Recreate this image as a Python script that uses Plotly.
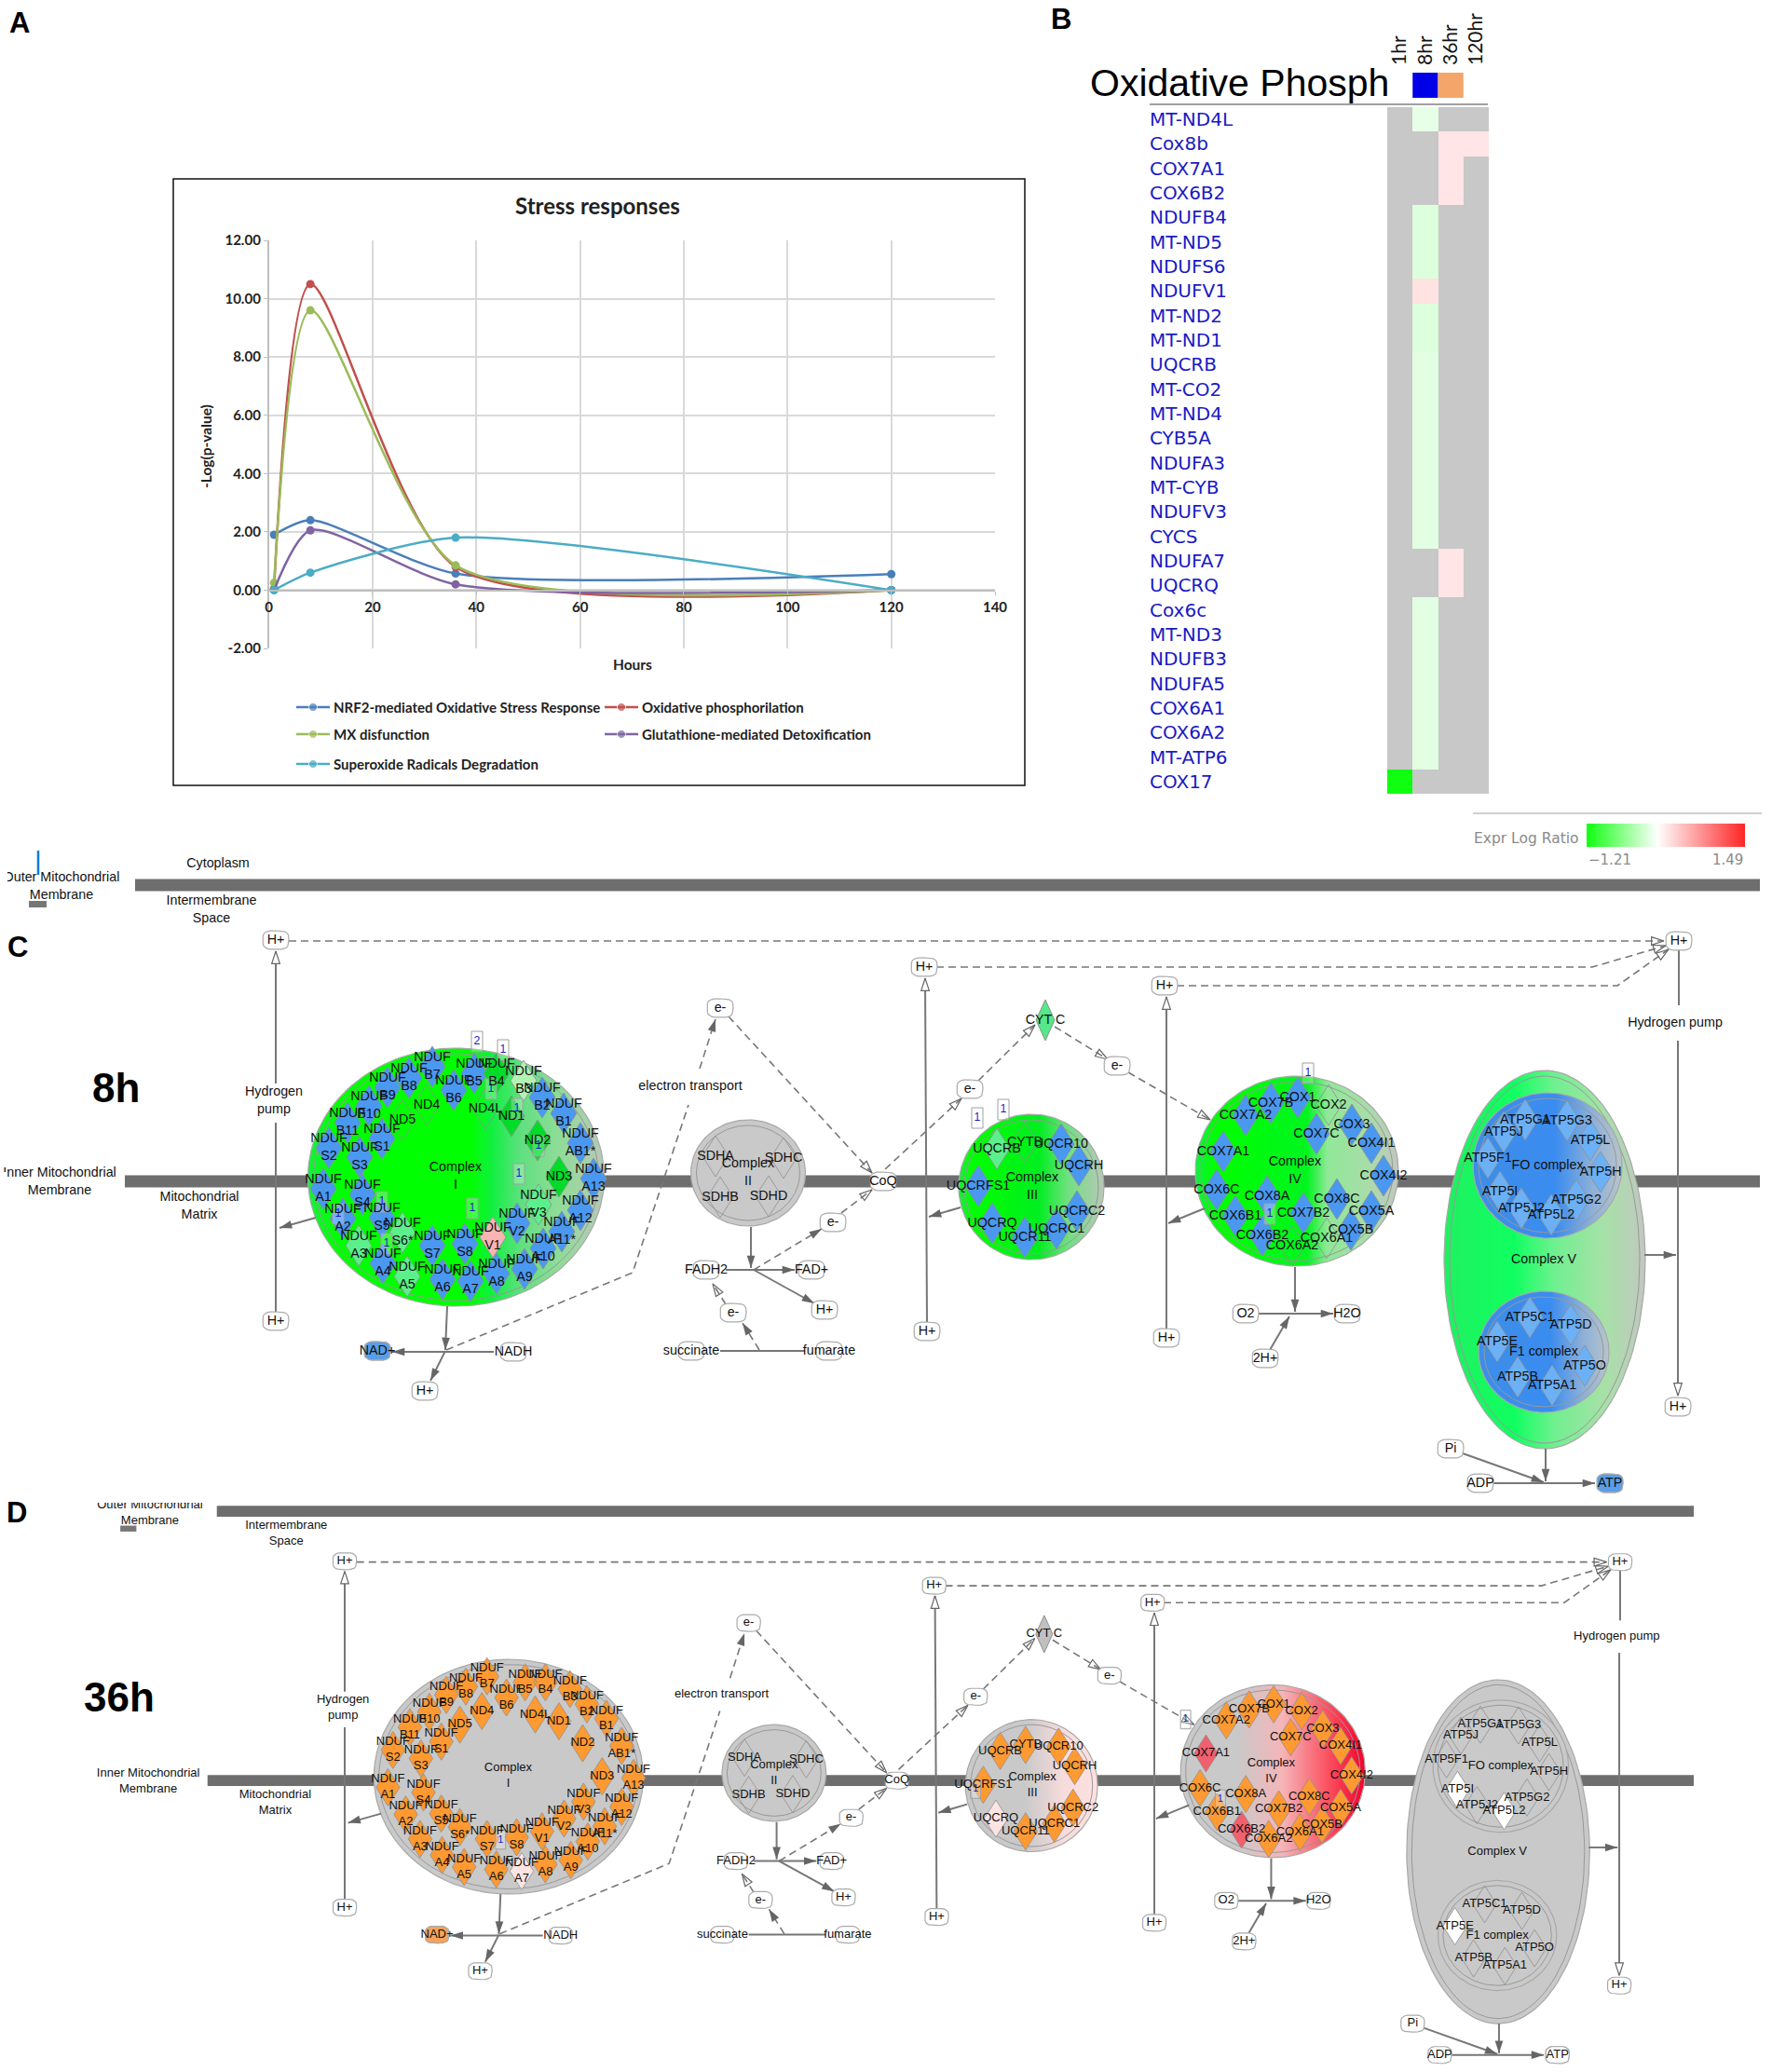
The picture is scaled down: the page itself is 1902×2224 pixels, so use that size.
import numpy as np
import plotly.graph_objects as go

W, H = 1902, 2224

# ---- panel A
hours = [1, 8, 36, 120]
nrf2 = [1.9, 2.4, 0.57, 0.55]
oxphos = [0.05, 10.5, 0.8, 0.0]
mx_dysf = [0.25, 9.6, 0.85, 0.0]
glutathione = [0.0, 2.05, 0.2, 0.0]
superoxide = [0.0, 0.6, 1.8, 0.0]
series_names = ['NRF2-mediated Oxidative Stress Response', 'Oxidative phosphorilation', 'MX disfunction',
                'Glutathione-mediated Detoxification', 'Superoxide Radicals Degradation']
series_colors = ['#4a7ebb', '#c0504d', '#9bbb59', '#8064a2', '#4bacc6']
y_tick_values = [-2, 0, 2, 4, 6, 8, 10, 12]
y_tick_labels = ['-2.00', '0.00', '2.00', '4.00', '6.00', '8.00', '10.00', '12.00']

# ---- panel B
genes = ['MT-ND4L', 'Cox8b', 'COX7A1', 'COX6B2', 'NDUFB4', 'MT-ND5', 'NDUFS6', 'NDUFV1', 'MT-ND2', 'MT-ND1',
         'UQCRB', 'MT-CO2', 'MT-ND4', 'CYB5A', 'NDUFA3', 'MT-CYB', 'NDUFV3', 'CYCS', 'NDUFA7', 'UQCRQ',
         'Cox6c', 'MT-ND3', 'NDUFB3', 'NDUFA5', 'COX6A1', 'COX6A2', 'MT-ATP6', 'COX17']
timepoints = ['1hr', '8hr', '36hr', '120hr']
n = None
expr_1hr = [n, n, n, n, n, n, n, n, n, n, n, n, n, n, n, n, n, n, n, n, n, n, n, n, n, n, n, -1.21]
expr_8hr = [-0.12, n, n, n, -0.18, -0.18, -0.18, 0.2, -0.18, -0.18, -0.14, -0.14, -0.14, -0.14, -0.14, -0.14,
            -0.14, -0.14, n, n, -0.14, -0.14, -0.14, -0.14, -0.14, -0.14, -0.14, n]
expr_36hr = [n, 0.18, 0.18, 0.18, n, n, n, n, n, n, n, n, n, n, n, n, n, n, 0.18, 0.18, n, n, n, n, n, n, n, n]
expr_120hr = [n, 0.18, n, n, n, n, n, n, n, n, n, n, n, n, n, n, n, n, n, n, n, n, n, n, n, n, n, n]

# ---- panels C and D share one layout, given here in the coordinates of panel C
c1_labels = ['NDUF<br>B7', 'NDUF<br>B8', 'NDUF<br>B9', 'NDUF<br>B10', 'NDUF<br>B11', 'NDUF<br>S1', 'NDUF<br>S2',
             'NDUF<br>S3', 'NDUF<br>A1', 'NDUF<br>S4', 'NDUF<br>A2', 'NDUF<br>S5', 'NDUF<br>A3', 'NDUF<br>S6*',
             'NDUF<br>A4', 'NDUF<br>A5', 'NDUF<br>A6', 'NDUF<br>A7', 'NDUF<br>A8', 'NDUF<br>A9', 'NDUF<br>A10',
             'NDUF<br>A11*', 'NDUF<br>A12', 'NDUF<br>A13', 'NDUF<br>S7', 'NDUF<br>S8', 'NDUF<br>V1', 'NDUF<br>V2',
             'NDUF<br>V3', 'NDUF<br>B6', 'NDUF<br>B5', 'NDUF<br>B4', 'NDUF<br>B3', 'NDUF<br>B2', 'NDUF<br>B1',
             'NDUF<br>AB1*', 'ND5', 'ND4', 'ND4L', 'ND1', 'ND2', 'ND3']
c1_x = [464, 439, 416, 396, 373, 410, 353, 386, 347, 389, 368, 410, 385, 432, 411, 437, 475, 505, 533, 563, 583, 603,
        623, 637, 464, 499, 529, 555, 578, 487, 509, 533, 562, 582, 605, 623, 432, 458, 521, 549, 577, 600]
c1_y = [1145, 1157, 1167, 1187, 1205, 1222, 1232, 1242, 1276, 1282, 1308, 1307, 1337, 1323, 1356, 1370, 1373, 1375,
        1367, 1362, 1340, 1322, 1299, 1265, 1337, 1335, 1328, 1313, 1293, 1170, 1152, 1152, 1160, 1178, 1195, 1227,
        1202, 1186, 1190, 1198, 1224, 1263]

c2_labels = ['SDHA', 'SDHC', 'SDHB', 'SDHD']
c2_x = [768, 841, 773, 825]
c2_y = [1241, 1243, 1285, 1284]

c3_labels = ['UQCRB', 'CYTB', 'UQCR10', 'UQCRH', 'UQCRFS1', 'UQCRC2', 'UQCRQ', 'UQCR11', 'UQCRC1']
c3_x = [1070, 1100, 1139, 1158, 1050, 1156, 1065, 1100, 1134]
c3_y = [1233, 1226, 1228, 1251, 1273, 1300, 1313, 1328, 1319]

c4_labels = ['COX1', 'COX7B', 'COX7A2', 'COX2', 'COX3', 'COX7C', 'COX4I1', 'COX7A1', 'COX4I2', 'COX6C', 'COX8A',
             'COX8C', 'COX5A', 'COX6B1', 'COX7B2', 'COX5B', 'COX6B2', 'COX6A1', 'COX6A2']
c4_x = [1393, 1364, 1337, 1426, 1451, 1413, 1472, 1313, 1485, 1306, 1360, 1435, 1472, 1326, 1399, 1450, 1355, 1424, 1387]
c4_y = [1178, 1184, 1197, 1186, 1207, 1217, 1227, 1236, 1262, 1277, 1284, 1287, 1300, 1305, 1302, 1320, 1326, 1329, 1337]

fo_labels = ['ATP5G1', 'ATP5G3', 'ATP5J', 'ATP5L', 'ATP5F1', 'ATP5H', 'ATP5I', 'ATP5J2', 'ATP5G2', 'ATP5L2']
fo_x = [1637, 1682, 1614, 1707, 1597, 1718, 1610, 1633, 1692, 1665]
fo_y = [1202, 1203, 1215, 1224, 1243, 1258, 1279, 1297, 1288, 1304]

f1_labels = ['ATP5C1', 'ATP5D', 'ATP5E', 'ATP5O', 'ATP5B', 'ATP5A1']
f1_x = [1642, 1686, 1607, 1701, 1629, 1666]
f1_y = [1414, 1422, 1440, 1466, 1478, 1487]

# fold change state of each protein: everything not listed takes the default of its group
states_8h = {'ND4': 'none', 'ND5': 'none', 'ND4L': 'none', 'NDUF<br>A3': 'soft', 'NDUF<br>A5': 'soft',
             'NDUF<br>S6*': 'soft', 'NDUF<br>V3': 'soft', 'NDUF<br>B3': 'pale', 'NDUF<br>B4': 'strong',
             'ND1': 'strong', 'ND2': 'strong', 'ND3': 'strong', 'NDUF<br>V1': 'pink', 'UQCRB': 'soft', 'CYTB': 'none',
             'COX2': 'none', 'COX6A2': 'none', 'COX6A1': 'none'}
states_36h = {'NDUF<br>A7': 'blush', 'UQCRQ': 'blush', 'COX7A1': 'red', 'COX6B2': 'red', 'ATP5I': 'white',
              'ATP5L2': 'white', 'ATP5E': 'white'}
state_colors = {'blue': '#4a98f0', 'lightblue': '#6cb0f6', 'none': 'rgba(0,0,0,0)', 'soft': '#5cf08c',
                'pale': '#b4f2b4', 'strong': '#00dc28', 'pink': '#fbb4b4', 'orange': '#ff9a33',
                'blush': '#fde4e4', 'red': '#f0606e', 'white': '#ffffff'}

metabolites = ['H+', 'H+', 'e-', 'e-', 'FADH2', 'FAD+', 'H+', 'e-', 'succinate', 'fumarate', 'NAD+', 'NADH', 'H+',
               'H+', 'H+', 'H+', 'H+', 'H+', 'H+', 'e-', 'e-', 'O2', 'H2O', '2H+', 'Pi', 'ADP', 'ATP', 'CoQ']
metabolite_x = [296, 296, 773, 894, 758, 871, 885, 787, 742, 890, 405, 551, 456,
                992, 1250, 1802, 995, 1252, 1801, 1041, 1199, 1337, 1446, 1358, 1557, 1589, 1728, 948]
metabolite_y = [1009, 1418, 1082, 1312, 1363, 1363, 1406, 1409, 1450, 1450, 1450, 1451, 1493,
                1038, 1058, 1010, 1429, 1436, 1510, 1169, 1144, 1410, 1410, 1458, 1555, 1592, 1592, 1268]

place_labels = ['Cytoplasm', 'Outer Mitochondrial<br>Membrane', 'Intermembrane<br>Space',
                'Inner Mitochondrial<br>Membrane', 'Mitochondrial<br>Matrix', 'Hydrogen<br>pump', 'electron transport',
                'Hydrogen pump', 'Complex<br>I', 'Complex<br>II', 'Complex<br>III', 'Complex<br>IV', 'Complex V',
                'FO complex', 'F1 complex', 'CYT C']
place_x = [234, 66, 227, 64, 214, 294, 741, 1798, 489, 803, 1108, 1390, 1657, 1661, 1657, 1122]
place_y = [927, 952, 977, 1269, 1295, 1182, 1166, 1098, 1263, 1259, 1274, 1257, 1352, 1251, 1451, 1095]

# x points, y points, kind of head
solid_edges = [
    ([296, 296], [1408, 1205], None), ([296, 296], [1163, 1021], 'hollow'), ([339, 300], [1307, 1318], 'filled'),
    ([480, 478], [1402, 1449], 'filled'), ([530, 421], [1451, 1451], 'filled'), ([478, 462], [1450, 1482], 'filled'),
    ([806, 806], [1317, 1361], 'filled'), ([779, 853], [1363, 1363], 'filled'), ([809, 874], [1363, 1399], 'filled'),
    ([773, 864], [1450, 1450], None), ([995, 993], [1420, 1050], 'hollow'), ([1252, 1252], [1427, 1070], 'hollow'),
    ([1031, 997], [1296, 1306], 'filled'), ([1293, 1254], [1297, 1313], 'filled'), ([1390, 1390], [1360, 1408], 'filled'),
    ([1351, 1431], [1410, 1410], 'filled'), ([1363, 1384], [1449, 1413], 'filled'), ([1802, 1802], [1019, 1079], None),
    ([1801, 1801], [1117, 1498], 'hollow'), ([1765, 1799], [1347, 1347], 'filled'), ([1659, 1659], [1555, 1590], 'filled'),
    ([1570, 1657], [1560, 1591], 'filled'), ([1603, 1712], [1592, 1592], 'filled'),
]
dashed_edges = [
    ([310, 1786], [1010, 1010], 'open'), ([815, 797], [1449, 1420], 'filled'), ([779, 765], [1400, 1378], 'open'),
    ([809, 882], [1363, 1319], 'filled'), ([903, 936], [1302, 1277], 'open'), ([782, 936], [1091, 1259], 'open'),
    ([479, 679, 739], [1449, 1366, 1186], None), ([751, 768], [1147, 1094], 'filled'),
    ([950, 1032], [1255, 1179], 'open'), ([1050, 1111], [1160, 1100], 'open'), ([1132, 1189], [1102, 1137], 'open'),
    ([1211, 1299], [1151, 1202], 'open'), ([1005, 1709, 1788], [1038, 1038, 1015], 'open'),
    ([1263, 1736, 1791], [1058, 1058, 1019], 'open'),
]

badges_8h_text = ['2', '1', '1', '1', '1', '1', '1', '1', '1', '1', '1', '1', '1', '1']
badges_8h_x = [512, 540, 527, 555, 578, 557, 507, 410, 363, 415, 1049, 1077, 1404, 1363]
badges_8h_y = [1118, 1127, 1169, 1190, 1230, 1260, 1297, 1290, 1303, 1335, 1200, 1191, 1152, 1303]
badges_36h_text = ['1', '1', '1', '1']
badges_36h_x = [480, 1289, 1041, 1330]
badges_36h_y = [1338, 1196, 1278, 1290]

# where panel D sits relative to panel C
D_SCALE = 0.909
D_X0, D_Y0, D_PAGE_X0, D_PAGE_Y0 = 296, 1013.7, 370, 1680

GREY = '#c9c9c9'
grad_8h = {
    'I': [[0, '#14f23a'], [.1, '#00ff00'], [.55, '#00ff00'], [.62, '#10f040'], [.72, '#60e080'], [.85, '#90dc98'], [1, '#b8c8b8']],
    'II': [[0, GREY], [1, GREY]],
    'III': [[0, '#20e840'], [.1, '#00ff00'], [.55, '#00ee20'], [.75, '#70e080'], [1, '#b8c8b8']],
    'IV': [[0, '#10f040'], [.1, '#00ff00'], [.55, '#00f520'], [.65, '#90e898'], [.85, '#a8dca8'], [1, '#c0c8c0']],
    'V': [[0, '#20f060'], [.35, '#10ff60'], [.55, '#70f090'], [.8, '#a8e0a8'], [1, '#c0c8c0']],
    'FO': [[0, '#3d8ee8'], [.55, '#3a8cf0'], [.8, '#8cb0d8'], [1, '#b8c4cc']],
    'F1': [[0, '#3d8ee8'], [.55, '#3a8cf0'], [.8, '#8cb0d8'], [1, '#b8c4cc']],
}
grad_36h = {
    'I': [[0, GREY], [1, GREY]],
    'II': [[0, GREY], [1, GREY]],
    'III': [[0, GREY], [.45, GREY], [.75, '#f8dcdc'], [1, '#fde0e0']],
    'IV': [[0, GREY], [.3, GREY], [.55, '#f5b5b8'], [.8, '#fb5060'], [1, '#f5002a']],
    'V': [[0, GREY], [1, GREY]],
    'FO': [[0, GREY], [1, GREY]],
    'F1': [[0, GREY], [1, GREY]],
}
# name, centre x, centre y, radius x, radius y
complexes = [('V', 1658, 1352, 108, 203), ('FO', 1661, 1251, 80, 78), ('F1', 1657, 1451, 70, 65),
             ('I', 489.5, 1263.5, 159, 138.5), ('II', 803, 1259, 61.5, 57),
             ('III', 1107, 1274, 78, 78), ('IV', 1392, 1257, 109, 102)]

LINE_GREY = '#777777'
SANS = 'Liberation Sans'
CALIBRI = 'Lato'

fig = go.Figure()


def px_x(v):
    return v / W


def px_y(v):
    return 1 - v / H


# ---------------- A
for name, vals, col in zip(series_names, [nrf2, oxphos, mx_dysf, glutathione, superoxide], series_colors):
    fig.add_trace(go.Scatter(x=hours, y=vals, name=name, mode='lines+markers', xaxis='x', yaxis='y',
                             line=dict(color=col, width=2.5, shape='spline', smoothing=0.7),
                             marker=dict(color=col, size=9), showlegend=False, hoverinfo='skip'))

legend_rows = [(318, 759), (649, 759), (318, 788), (649, 788), (318, 820)]
for (lx, ly), name, col in zip(legend_rows, series_names, series_colors):
    fig.add_trace(go.Scatter(x=[lx, lx + 18, lx + 36], y=[ly, ly, ly], mode='lines+markers', xaxis='x3', yaxis='y3',
                             line=dict(color=col, width=2.5), marker=dict(color=col, size=[0, 9, 0]),
                             showlegend=False, hoverinfo='skip'))

# ---------------- B
z = np.array([expr_1hr, expr_8hr, expr_36hr, expr_120hr], dtype=float).T
fig.add_trace(go.Heatmap(z=z, x=timepoints, y=genes, xaxis='x2', yaxis='y2', zmin=-1.21, zmax=1.49,
                         colorscale=[[0, '#10ff10'], [0.448, '#ffffff'], [1, '#ff2525']], hoverinfo='skip',
                         colorbar=dict(orientation='h', lenmode='pixels', len=170, thicknessmode='pixels', thickness=25,
                                       x=px_x(1703), xanchor='left', y=px_y(909), yanchor='bottom', xpad=0, ypad=0,
                                       outlinewidth=0, showticklabels=False, ticks='')))

annotations = []
shapes = []


def note(x, y, text, size, color='#000000', family=SANS, weight=None, xanchor='center', yanchor='middle',
         xref='paper', yref='paper', angle=0):
    annotations.append(dict(x=x, y=y, xref=xref, yref=yref, text=text, showarrow=False, xanchor=xanchor, yanchor=yanchor,
                            textangle=angle, font=dict(size=size, color=color, family=family, weight=weight)))


for g in genes:
    note(px_x(1232), g, g, 20, color='#1a1ac4', family='DejaVu Sans', xanchor='left', yref='y2')

note(px_x(1168), px_y(89), 'Oxidative Phosph', 41, xanchor='left')
note(px_x(1697), px_y(900), 'Expr Log Ratio', 15.5, color='#8a8a8a', family='DejaVu Sans', xanchor='right')
note(px_x(1703), px_y(923), '\u22121.21', 15, color='#8a8a8a', family='DejaVu Sans', xanchor='left')
note(px_x(1873), px_y(923), '1.49', 15, color='#8a8a8a', family='DejaVu Sans', xanchor='right')

shapes.append(dict(type='rect', xref='x2 domain', yref='y2 domain', x0=0, x1=1, y0=0, y1=1, fillcolor='#c8c8c8',
                   line_width=0, layer='below'))
shapes.append(dict(type='line', xref='paper', yref='paper', x0=px_x(1234), x1=px_x(1597), y0=px_y(112), y1=px_y(112),
                   line=dict(color='#808080', width=1.5)))
shapes.append(dict(type='line', xref='paper', yref='paper', x0=px_x(1581), x1=px_x(1891), y0=px_y(873), y1=px_y(873),
                   line=dict(color='#c0c0c0', width=1.5)))
shapes.append(dict(type='rect', xref='x2', yref='paper', x0=0.5, x1=1.5, y0=px_y(105), y1=px_y(78), fillcolor='#0000e6',
                   line_width=0))
shapes.append(dict(type='rect', xref='x2', yref='paper', x0=1.5, x1=2.5, y0=px_y(105), y1=px_y(78), fillcolor='#f4a66a',
                   line_width=0))

# ---------------- A frame and texts
shapes.append(dict(type='rect', xref='paper', yref='paper', x0=px_x(186), x1=px_x(1100), y0=px_y(843), y1=px_y(192),
                   line=dict(color='#111111', width=1.5)))
note(px_x(641), px_y(221), 'Stress responses', 24, family=CALIBRI, weight=700, color='#222222')
note(px_x(679), px_y(713), 'Hours', 15.5, family=CALIBRI, weight=700, color='#222222')
note(px_x(221), px_y(479), '-Log(p-value)', 15.5, family=CALIBRI, weight=700, color='#222222', angle=-90)
for (lx, ly), name in zip(legend_rows, series_names):
    note(px_x(lx + 38), px_y(ly), name, 15, family=CALIBRI, weight=700, color='#222222', xanchor='left')

for letter, lx, ly in [('A', 21, 24), ('B', 1139, 21), ('C', 19, 1016), ('D', 18, 1623)]:
    note(px_x(lx), px_y(ly), letter, 31, family=SANS, weight=700)
note(px_x(124), px_y(1167), '8h', 44, family=SANS, weight=700)
note(px_x(128), px_y(1821), '36h', 44, family=SANS, weight=700)


# ---------------- C and D
def pill_outline(xs, ys, half_w, half_h):
    out_x, out_y = [], []
    t = np.linspace(0, 2 * np.pi, 25)
    for cx, cy in zip(xs, ys):
        # superellipse, close enough to the rounded boxes of the pathway tool
        out_x += list(cx + half_w * np.sign(np.cos(t)) * np.abs(np.cos(t)) ** 0.6) + [None]
        out_y += list(cy + half_h * np.sign(np.sin(t)) * np.abs(np.sin(t)) ** 0.6) + [None]
    return out_x, out_y


def draw_pathway(xa, ya, grads, states, default_states, nad_fill, atp_fill, cyt_fill, badge_text, badge_x, badge_y, font,
                 skip_places=0):
    common = dict(xaxis=xa, yaxis=ya, showlegend=False, hoverinfo='skip')

    for yc in (950, 1268):
        x0 = 145 if yc == 950 else 134
        shapes.append(dict(type='rect', xref=xa, yref=ya, x0=x0, x1=1889, y0=yc - 6.5, y1=yc + 6.5,
                           fillcolor='#6e6e6e', line_width=0, layer='below'))
    shapes.append(dict(type='rect', xref=xa, yref=ya, x0=31, x1=50, y0=967, y1=974, fillcolor='#777777', line_width=0,
                       layer='below'))

    t = np.linspace(0, 2 * np.pi, 140)
    for name, cx, cy, rx, ry in complexes:
        fig.add_trace(go.Scatter(x=cx + rx * np.cos(t), y=cy + ry * np.sin(t), mode='lines', fill='toself',
                                 fillgradient=dict(type='horizontal', colorscale=grads[name]),
                                 line=dict(color='#a8a8a8', width=1.2), **common))
        fig.add_trace(go.Scatter(x=cx + (rx - 6) * np.cos(t), y=cy + (ry - 6) * np.sin(t), mode='lines',
                                 line=dict(color='#989898', width=1), **common))

    # diamonds, one polygon trace per colour
    groups = {}
    all_names, all_x, all_y = [], [], []
    for names, xs, ys, group in [(c1_labels, c1_x, c1_y, 'c1'), (c2_labels, c2_x, c2_y, 'c2'), (c3_labels, c3_x, c3_y, 'c3'),
                                 (c4_labels, c4_x, c4_y, 'c4'), (fo_labels, fo_x, fo_y, 'atp'), (f1_labels, f1_x, f1_y, 'atp')]:
        for nm, cx, cy in zip(names, xs, ys):
            st = states.get(nm, default_states[group])
            gx, gy = groups.setdefault(st, ([], []))
            gx += [cx, cx + 14, cx, cx - 14, cx, None]
            gy += [cy - 22, cy, cy + 22, cy, cy - 22, None]
            all_names.append(nm)
            all_x.append(cx)
            all_y.append(cy)
    for st, (gx, gy) in groups.items():
        fig.add_trace(go.Scatter(x=gx, y=gy, mode='lines', fill='toself', fillcolor=state_colors[st],
                                 line=dict(color='#8f8f8f', width=0.8), **common))

    # cytochrome c
    cx, cy = place_x[-1], place_y[-1]
    fig.add_trace(go.Scatter(x=[cx, cx + 10, cx, cx - 10, cx], y=[cy - 22, cy, cy + 22, cy, cy - 22], mode='lines',
                             fill='toself', fillcolor=cyt_fill, line=dict(color='#909090', width=1), **common))

    # edges
    for edges, width, dash in [(solid_edges, 2, 'solid'), (dashed_edges, 1.6, '8px,5px')]:
        lx, ly = [], []
        for ex, ey, _ in edges:
            lx += list(ex) + [None]
            ly += list(ey) + [None]
        fig.add_trace(go.Scatter(x=lx, y=ly, mode='lines', line=dict(color=LINE_GREY, width=width, dash=dash), **common))
    heads = {'filled': ([], [], []), 'open': ([], [], []), 'hollow': ([], [], [])}
    for ex, ey, kind in solid_edges + dashed_edges:
        if kind:
            heads[kind][0].append(ex[-1])
            heads[kind][1].append(ey[-1])
            heads[kind][2].append(float(np.degrees(np.arctan2(ex[-1] - ex[-2], ey[-2] - ey[-1]))))
    head_styles = {'filled': dict(symbol='arrow', color='#666666', line=dict(width=0)),
                   'open': dict(symbol='arrow-open', color='#666666', line=dict(color='#666666', width=1.2)),
                   'hollow': dict(symbol='arrow', color='#ffffff', line=dict(color='#666666', width=1.2))}
    for kind, (hx, hy, ha) in heads.items():
        fig.add_trace(go.Scatter(x=hx, y=hy, mode='markers', marker=dict(size=14, angle=ha, **head_styles[kind]), **common))

    # small molecules
    px_, py_ = pill_outline(metabolite_x, metabolite_y, 14, 10)
    fig.add_trace(go.Scatter(x=px_, y=py_, mode='lines', fill='toself', fillcolor='#ffffff',
                             line=dict(color='#aaaaaa', width=1.2), **common))
    for label, fill in [('NAD+', nad_fill), ('ATP', atp_fill)]:
        i = metabolites.index(label)
        px_, py_ = pill_outline([metabolite_x[i]], [metabolite_y[i]], 14, 10)
        fig.add_trace(go.Scatter(x=px_, y=py_, mode='lines', fill='toself', fillcolor=fill,
                                 line=dict(color='#aaaaaa', width=1.2), **common))

    # count badges
    bx, by = [], []
    for cx, cy in zip(badge_x, badge_y):
        bx += [cx - 6, cx + 6, cx + 6, cx - 6, cx - 6, None]
        by += [cy - 11, cy - 11, cy + 11, cy + 11, cy - 11, None]
    fig.add_trace(go.Scatter(x=bx, y=by, mode='lines', fill='toself', fillcolor='rgba(255,255,255,0.25)',
                             line=dict(color='#a0a0a0', width=1), **common))
    fig.add_trace(go.Scatter(x=badge_x, y=badge_y, mode='text', text=badge_text,
                             textfont=dict(size=font - 2, color='#1a1ac8', family=SANS), **common))

    fig.add_trace(go.Scatter(x=all_x + metabolite_x + place_x[skip_places:], y=all_y + metabolite_y + place_y[skip_places:],
                             mode='text', text=all_names + metabolites + place_labels[skip_places:],
                             textfont=dict(size=font, color='#111111', family=SANS), **common))


defaults_8h = {'c1': 'blue', 'c2': 'none', 'c3': 'blue', 'c4': 'blue', 'atp': 'lightblue'}
defaults_36h = {'c1': 'orange', 'c2': 'none', 'c3': 'orange', 'c4': 'orange', 'atp': 'none'}
draw_pathway('x3', 'y3', grad_8h, states_8h, defaults_8h, '#5a9de8', '#5a9de8', '#55e888',
             badges_8h_text, badges_8h_x, badges_8h_y, 14.3)
# panel D was cropped just under the cytoplasm label
draw_pathway('x4', 'y4', grad_36h, states_36h, defaults_36h, '#f6a35a', '#ffffff', '#c0c0c0',
             badges_36h_text, badges_36h_x, badges_36h_y, 13, skip_places=1)

# top of panel D and left page edge crop some of the labels
for x0, x1, y0, y1 in [(0, 8, 935, 970), (0, 8, 1258, 1280), (60, 260, 1596, 1613)]:
    shapes.append(dict(type='rect', xref='x3', yref='y3', x0=x0, x1=x1, y0=y0, y1=y1, fillcolor='#ffffff', line_width=0,
                       layer='above'))
# blue tick above the outer membrane label
shapes.append(dict(type='line', xref='x3', yref='y3', x0=41, x1=41, y0=913, y1=939, line=dict(color='#0a7be0', width=2.5)))

d_x_range = [D_X0 - D_PAGE_X0 / D_SCALE, D_X0 + (W - D_PAGE_X0) / D_SCALE]
d_y_range = [D_Y0 + (H - D_PAGE_Y0) / D_SCALE, D_Y0 - D_PAGE_Y0 / D_SCALE]

hidden = dict(visible=False, fixedrange=True)
tickfont_a = dict(size=15, family=CALIBRI, weight=700, color='#222222')
fig.update_layout(
    width=W, height=H, margin=dict(l=0, r=0, t=0, b=0, autoexpand=False),
    paper_bgcolor='#ffffff', plot_bgcolor='rgba(0,0,0,0)', showlegend=False,
    annotations=annotations, shapes=shapes,
    xaxis=dict(domain=[px_x(288.6), px_x(1068)], range=[0, 140], dtick=20, anchor='free', position=px_y(633.6),
               showgrid=True, gridcolor='#d9d9d9', gridwidth=1.5, zeroline=False, showline=True, linecolor='#bfbfbf',
               linewidth=2, ticks='outside', ticklen=4, tickcolor='#bfbfbf', tickfont=tickfont_a),
    yaxis=dict(domain=[px_y(696), px_y(258)], range=[-2, 12], tickvals=y_tick_values, ticktext=y_tick_labels, anchor='x',
               showgrid=True, gridcolor='#d9d9d9', gridwidth=1.5, zeroline=False, showline=True, linecolor='#bfbfbf',
               linewidth=1.5, ticks='outside', ticklen=4, tickcolor='#bfbfbf', tickfont=tickfont_a),
    xaxis2=dict(domain=[px_x(1489), px_x(1598)], side='top', anchor='y2', type='category', tickangle=-90, ticks='',
                ticklabelstandoff=44, showgrid=False, zeroline=False, showline=False,
                tickfont=dict(size=21, family=CALIBRI, color='#111111')),
    yaxis2=dict(domain=[px_y(852), px_y(115)], anchor='x2', type='category', range=[27.5, -0.5], showticklabels=False,
                ticks='', showgrid=False, zeroline=False, showline=False),
    xaxis3=dict(domain=[0, 1], range=[0, W], anchor='y3', **hidden),
    yaxis3=dict(domain=[0, 1], range=[H, 0], anchor='x3', **hidden),
    xaxis4=dict(domain=[0, 1], range=d_x_range, anchor='y4', **hidden),
    yaxis4=dict(domain=[0, 1], range=d_y_range, anchor='x4', **hidden),
)

# the page's default body margin would push the whole figure 8px down and right
fig.write_html("out.html", config={'displayModeBar': False}, post_script="document.body.style.margin='0';")
